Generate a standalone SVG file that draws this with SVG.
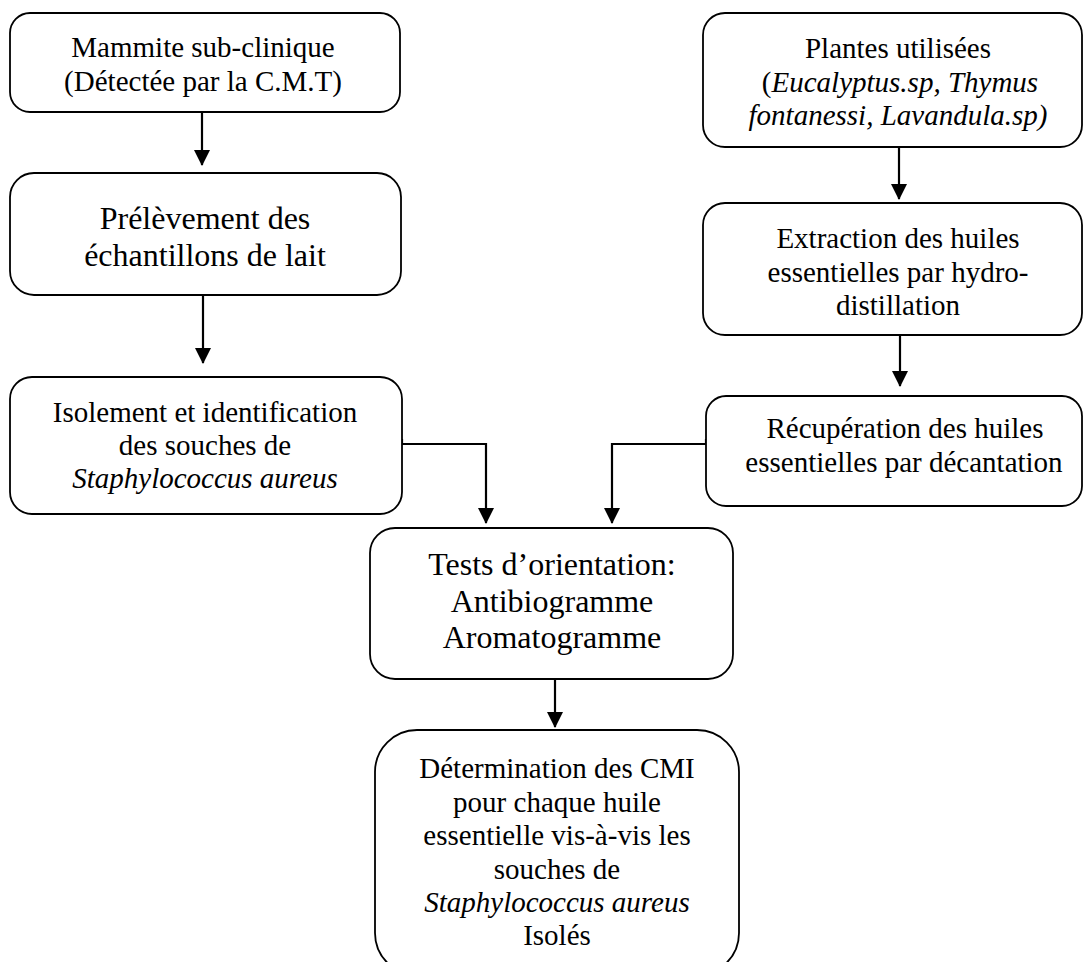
<svg xmlns="http://www.w3.org/2000/svg" width="1084" height="962" viewBox="0 0 1084 962">
<style>
.box{fill:#fff;stroke:#000;stroke-width:1.8}
.t{font-family:"Liberation Serif","Times New Roman",serif;font-size:29px;fill:#000;text-anchor:middle}
.big{font-size:32px}
.i{font-style:italic}
.c{fill:none;stroke:#000;stroke-width:2.2}
</style>
<defs>
<marker id="ah" markerUnits="userSpaceOnUse" markerWidth="16" markerHeight="18" refX="15" refY="8" orient="auto">
<path d="M0,0 L16,8 L0,16 Z" fill="#000"/>
</marker>
</defs>
<rect width="1084" height="962" fill="#fff"/>
<g id="connectors">
<path class="c" d="M202,112 V165" marker-end="url(#ah)"/>
<path class="c" d="M203,295 V363" marker-end="url(#ah)"/>
<path class="c" d="M402,439 V444 H486 V523" marker-end="url(#ah)"/>
<path class="c" d="M706,439 V444 H612 V523" marker-end="url(#ah)"/>
<path class="c" d="M899,147 V199" marker-end="url(#ah)"/>
<path class="c" d="M900,335 V386" marker-end="url(#ah)"/>
<path class="c" d="M555,679 V727" marker-end="url(#ah)"/>
</g>
<g id="n1">
<rect class="box" x="10" y="13" width="390" height="99" rx="20"/>
<text class="t" x="203" y="57">Mammite sub-clinique</text>
<text class="t" x="203" y="91">(Détectée par la C.M.T)</text>
</g>
<g id="n2">
<rect class="box" x="10" y="173" width="391" height="122" rx="24"/>
<text class="t big" x="205" y="229">Prélèvement des</text>
<text class="t big" x="205" y="266">échantillons de lait</text>
</g>
<g id="n3">
<rect class="box" x="10" y="377" width="392" height="137" rx="22"/>
<text class="t" x="205" y="422">Isolement et identification</text>
<text class="t" x="205" y="455">des souches de</text>
<text class="t i" x="205" y="488">Staphylococcus aureus</text>
</g>
<g id="n4">
<rect class="box" x="703" y="13" width="379" height="134" rx="22"/>
<text class="t" x="898" y="58">Plantes utilisées</text>
<text class="t" x="900" y="92">(<tspan class="i">Eucalyptus.sp, Thymus</tspan></text>
<text class="t i" x="898" y="125">fontanessi, Lavandula.sp)</text>
</g>
<g id="n5">
<rect class="box" x="703" y="203" width="379" height="132" rx="22"/>
<text class="t" x="898" y="248">Extraction des huiles</text>
<text class="t" x="898" y="282">essentielles par hydro-</text>
<text class="t" x="898" y="315">distillation</text>
</g>
<g id="n6">
<rect class="box" x="706" y="396" width="376" height="110" rx="20"/>
<text class="t" x="905" y="438">Récupération des huiles</text>
<text class="t" x="904" y="472">essentielles par décantation</text>
</g>
<g id="n7">
<rect class="box" x="370" y="528" width="363" height="151" rx="25"/>
<text class="t big" x="552" y="575">Tests d’orientation:</text>
<text class="t big" x="552" y="612">Antibiogramme</text>
<text class="t big" x="552" y="648">Aromatogramme</text>
</g>
<g id="n8">
<rect class="box" x="375" y="730" width="364" height="245" rx="42"/>
<text class="t" x="557" y="778">Détermination des CMI</text>
<text class="t" x="557" y="812">pour chaque huile</text>
<text class="t" x="557" y="845">essentielle vis-à-vis les</text>
<text class="t" x="557" y="879">souches de</text>
<text class="t i" x="557" y="912">Staphylococcus aureus</text>
<text class="t" x="557" y="945">Isolés</text>
</g>
</svg>
